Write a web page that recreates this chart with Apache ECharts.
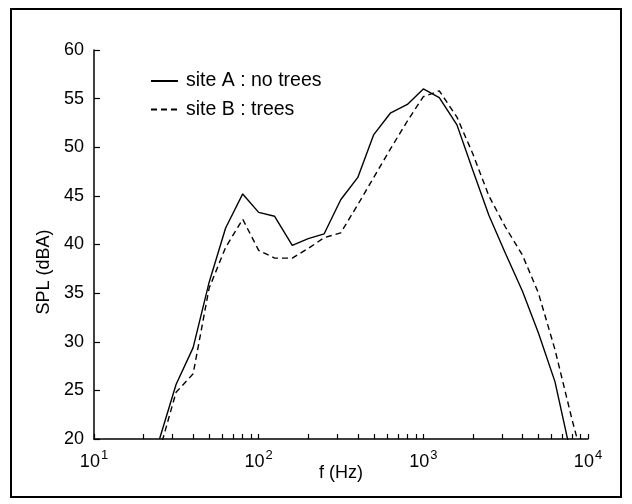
<!DOCTYPE html>
<html>
<head>
    <meta charset="utf-8">
    <title>SPL spectrum</title>
    <script src="https://cdn.jsdelivr.net/npm/echarts@6/dist/echarts.min.js"></script>
    <style>
        html, body { margin: 0; padding: 0; background: #fff; }
        #chart { width: 632px; height: 504px; }
    </style>
</head>
<body>
<div id="chart"></div>
<script>
    // third-octave band centres (Hz)
    var freqs = [25, 31.5, 40, 50, 63, 80, 100, 125, 160, 200, 250, 315, 400, 500, 630,
        800, 1000, 1250, 1600, 2000, 2500, 3150, 4000, 5000, 6300, 8000, 10000];
    // levels (dBA)
    var siteA = [20.0, 25.6, 29.4, 36.1, 41.7, 45.2, 43.3, 42.9, 39.9, 40.6, 41.1, 44.6, 46.9, 51.3, 53.5,
        54.4, 56.0, 55.1, 52.3, 47.6, 43.0, 39.1, 35.2, 30.9, 25.9, 17.9, null];
    var siteB = [18.8, 24.8, 26.7, 35.5, 39.7, 42.6, 39.4, 38.6, 38.6, 39.6, 40.7, 41.2, 44.1, 46.9, 49.8,
        52.7, 55.2, 55.8, 53.1, 49.3, 45.0, 41.8, 38.9, 35.0, 29.2, 22.0, 15.8];
    var seriesNames = ['site A : no trees', 'site B : trees'];
    var xMajor = [10, 100, 1000, 10000];
    var xTicks = [10, 20, 30, 40, 50, 60, 70, 80, 90, 100, 200, 300, 400, 500, 600, 700, 800, 900,
        1000, 2000, 3000, 4000, 5000, 6000, 7000, 8000, 9000, 10000];

    var font = "'Liberation Sans', Arial, Helvetica, sans-serif";

    function pairs(ys) {
        var out = [];
        for (var i = 0; i < freqs.length; i++) {
            if (ys[i] != null) out.push([freqs[i], ys[i]]);
        }
        return out;
    }

    var chart = echarts.init(document.getElementById('chart'));

    var option = {
        animation: false,
        backgroundColor: '#fff',
        grid: { left: 94, right: 44, top: 50, bottom: 65 },
        legend: {
            orient: 'vertical',
            left: 150,
            top: 71,
            padding: 0,
            itemWidth: 27,
            itemHeight: 14,
            itemGap: 8.5,
            data: seriesNames,
            itemStyle: { opacity: 0 },
            textStyle: { fontFamily: font, fontSize: 19.5, color: '#000', lineHeight: 20, padding: [0, 0, 0, 3] }
        },
        xAxis: {
            type: 'log',
            logBase: 10,
            min: 10,
            max: 10000,
            name: 'f (Hz)',
            nameLocation: 'middle',
            nameGap: 25,
            nameMoveOverlap: false,
            nameTextStyle: { fontFamily: font, fontSize: 18, color: '#000' },
            axisLine: { lineStyle: { color: '#000', width: 1.5 } },
            axisTick: { inside: true, length: 5, customValues: xTicks, lineStyle: { color: '#000', width: 1.2 } },
            axisLabel: {
                customValues: xMajor,
                margin: 10,
                color: '#000',
                formatter: function (v) {
                    return '{b|10}{s|' + Math.round(Math.log10(v)) + '}';
                },
                rich: {
                    b: { fontFamily: font, fontSize: 18, color: '#000', verticalAlign: 'bottom' },
                    s: { fontFamily: font, fontSize: 13, color: '#000', verticalAlign: 'bottom', padding: [0, 0, 9, 1] }
                }
            },
            splitLine: { show: false }
        },
        yAxis: {
            type: 'value',
            min: 20,
            max: 60,
            interval: 5,
            axisLine: { show: true, lineStyle: { color: '#000', width: 1.5 } },
            axisTick: { show: true, inside: true, length: 6, lineStyle: { color: '#000', width: 1.2 } },
            axisLabel: { fontFamily: font, fontSize: 18, color: '#000', margin: 10 },
            splitLine: { show: false }
        },
        graphic: [
            {
                type: 'rect',
                shape: { x: 11, y: 9, width: 610, height: 488 },
                style: { fill: 'none', stroke: '#000', lineWidth: 2 },
                silent: true
            },
            {
                type: 'text',
                x: 44,
                y: 272,
                rotation: Math.PI / 2,
                style: {
                    text: 'SPL (dBA)',
                    font: '18px ' + font,
                    fill: '#000',
                    textAlign: 'center',
                    textVerticalAlign: 'middle'
                }
            }
        ],
        series: [
            {
                name: seriesNames[0],
                type: 'line',
                data: pairs(siteA),
                showSymbol: false,
                symbol: 'none',
                clip: true,
                lineStyle: { color: '#000', width: 1.4, type: 'solid' },
                itemStyle: { color: '#000' }
            },
            {
                name: seriesNames[1],
                type: 'line',
                data: pairs(siteB),
                showSymbol: false,
                symbol: 'none',
                clip: true,
                lineStyle: { color: '#000', width: 1.4, type: [6, 4] },
                itemStyle: { color: '#000' }
            }
        ]
    };

    chart.setOption(option);
</script>
</body>
</html>
